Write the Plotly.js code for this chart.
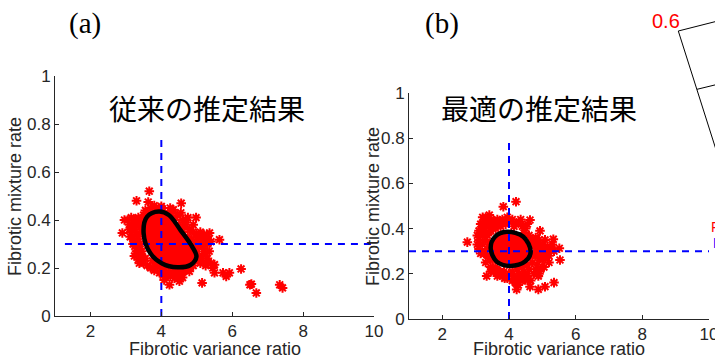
<!DOCTYPE html>
<html>
<head>
<meta charset="utf-8">
<script src="https://cdn.plot.ly/plotly-3.0.1.min.js"></script>
<style>html,body{margin:0;padding:0;background:#fff;overflow:hidden}#chart{width:715px;height:359px}</style>
</head>
<body>
<div id="chart"></div>
<script>
// ---- data ----
const xTicks = [2, 4, 6, 8, 10];
const yTicks = [0, 0.2, 0.4, 0.6, 0.8, 1];
const panelTitles = ["従来の推定結果", "最適の推定結果"];
const panelLabels = ["(a)", "(b)"];
const xLabel = "Fibrotic variance ratio";
const yLabel = "Fibrotic mixture rate";
const trueVar = 4;
const trueMix = 0.3;
const aRefLineX = [1.28, 10];
const aRefLineTop = 0.75;
const bRefLineX = [1, 10];
const bRefLineTop = 0.8;

// panel (a) samples
const aX = [3.66,3.30,3.63,4.56,4.0,4.34,3.25,2.96,2.9,4.98,4.7,5.36,5.64,3.24,3.38,5.26,5.5,5.5,5.74,5.92,5.83,6.25,5.15,4.23,4.51,4.08,4.37,6.54,6.5,6.68,7.34,7.42,5.08,5.17,5.26,4.7,4.79,4.56,4.27,4.13,
  3.05,3.15,3.25,3.35,3.45,3.1,3.2,3.3,3.4,3.15,3.3,3.42,3.2,3.35,3.25,3.4,3.3,3.45,3.35,3.5,3.45,3.12,3.5,3.55,3.6,
  3.7,3.85,4.0,4.1,4.2,4.3,4.45,4.6,4.75,4.35,4.5,4.65,4.8,4.9,
  4.9,5.0,5.1,5.2,5.3,5.0,5.15,5.3,5.4,5.05,5.2,5.35,5.0,5.15,5.3,4.95,5.1,5.25,4.9,5.4,5.45,
  3.9,4.0,4.1,4.2,4.35,4.5,4.65,4.8,4.05,4.25,4.45,4.6,3.85,4.7,
  3.2,3.4,3.55,3.1,3.25,3.35,3.2,3.4,3.3,3.55,3.6,3.7,3.75,3.8,3.95,4.15,4.4,4.6,4.75,4.85,4.95,5.05,4.85,4.95,5.1,5.25,5.2,4.7,4.55,4.25,3.8,3.95,4.4,4.6,4.75];
const aY = [0.52,0.48,0.475,0.47,0.457,0.443,0.40,0.40,0.346,0.41,0.40,0.346,0.318,0.25,0.22,0.22,0.214,0.18,0.18,0.18,0.165,0.196,0.138,0.13,0.145,0.15,0.158,0.133,0.13,0.096,0.13,0.117,0.234,0.29,0.33,0.207,0.186,0.18,0.186,0.207,
  0.40,0.41,0.40,0.41,0.40,0.38,0.37,0.38,0.37,0.35,0.34,0.35,0.32,0.31,0.29,0.28,0.26,0.25,0.235,0.22,0.27,0.33,0.42,0.44,0.43,
  0.45,0.44,0.45,0.43,0.42,0.44,0.42,0.40,0.41,0.40,0.38,0.37,0.36,0.38,
  0.35,0.34,0.35,0.34,0.33,0.32,0.31,0.30,0.31,0.29,0.28,0.27,0.26,0.25,0.24,0.23,0.22,0.21,0.21,0.22,0.20,
  0.21,0.20,0.19,0.18,0.19,0.20,0.19,0.20,0.17,0.165,0.17,0.16,0.22,0.21,
  0.39,0.39,0.41,0.36,0.36,0.33,0.30,0.30,0.27,0.24,0.21,0.20,0.23,0.19,0.18,0.17,0.18,0.19,0.23,0.26,0.30,0.33,0.32,0.27,0.24,0.26,0.32,0.38,0.43,0.45,0.46,0.44,0.41,0.35,0.33];
const aContourX = [3.93,4.21,4.54,4.87,4.99,4.82,4.45,4.02,3.69,3.50,3.60,3.93];
const aContourY = [0.435,0.421,0.358,0.289,0.247,0.2125,0.203,0.219,0.261,0.345,0.414,0.435];

// panel (b) samples
const bX = [3.83,4.21,3.41,3.21,2.75,3.33,4.63,4.93,5.51,5.53,5.33,5.08,5.35,5.08,4.88,4.63,4.28,4.23,4.48,4.88,3.73,3.87,
  3.05,3.1,3.15,3.2,3.25,3.3,3.35,3.4,3.45,3.5,3.55,3.6,3.7,3.8,3.9,4.0,4.1,4.2,4.3,4.4,4.5,3.2,3.3,3.35,3.25,3.4,3.3,3.45,3.55,3.1,3.2,
  4.6,4.7,4.8,4.75,4.85,4.95,5.05,5.15,5.25,5.35,4.8,4.9,5.0,5.1,5.2,4.7,4.85,4.95,4.6,4.75,4.45,4.3,4.15,4.0,3.85,4.5,4.65,4.35,4.2,5.05,
  3.15,3.3,3.45,3.65,3.75,3.95,4.15,4.35,4.45,4.55,3.05,3.15,3.35,3.4,3.3,3.5,3.45,3.6,3.7,3.65,3.8,3.95,4.1,4.25,4.4,4.55,4.65,4.75,4.7,4.85,4.9,5.0,5.1,5.2,5.3,4.95,4.8,4.9,4.55,4.4,4.1,4.3,3.25,3.1,3.4];
const bY = [0.497,0.519,0.46,0.45,0.34,0.19,0.438,0.39,0.313,0.261,0.353,0.35,0.161,0.143,0.131,0.143,0.15,0.131,0.173,0.19,0.209,0.18,
  0.37,0.35,0.38,0.40,0.43,0.41,0.44,0.42,0.39,0.41,0.43,0.40,0.42,0.44,0.42,0.43,0.44,0.42,0.43,0.41,0.40,0.33,0.35,0.31,0.29,0.27,0.25,0.23,0.21,0.31,0.37,
  0.37,0.35,0.36,0.32,0.33,0.31,0.30,0.32,0.31,0.30,0.28,0.27,0.26,0.27,0.28,0.25,0.24,0.22,0.22,0.20,0.21,0.20,0.19,0.20,0.21,0.18,0.17,0.17,0.16,0.23,
  0.42,0.45,0.44,0.44,0.41,0.45,0.41,0.44,0.38,0.42,0.33,0.29,0.37,0.33,0.29,0.26,0.21,0.23,0.21,0.19,0.19,0.18,0.21,0.22,0.23,0.24,0.28,0.29,0.34,0.30,0.35,0.33,0.29,0.25,0.33,0.28,0.22,0.20,0.19,0.19,0.17,0.18,0.39,0.39,0.385];
const bContourX = [3.93,4.43,4.65,4.48,4.03,3.63,3.45,3.58,3.93];
const bContourY = [0.386,0.364,0.298,0.254,0.235,0.254,0.313,0.364,0.386];

// ---- styling ----
const AX = '#262626';
const tickFont = {family: 'Liberation Sans, Arial, sans-serif', size: 17, color: AX};
const markerStyle = {symbol: 'asterisk-open', size: 8, color: '#ff0000', line: {color: '#ff0000', width: 2}};
const dashLine = {color: '#0000ff', width: 2, dash: '7px,6px'};

function panelTraces(px, py, cx, cy, refX, refTop, xa, ya) {
  return [
    {x: cx, y: cy, xaxis: xa, yaxis: ya, type: 'scatter', mode: 'lines', fill: 'toself', fillcolor: '#ff0000',
     line: {color: '#ff0000', width: 0, shape: 'spline'}, hoverinfo: 'skip', showlegend: false},
    {x: px, y: py, xaxis: xa, yaxis: ya, type: 'scatter', mode: 'markers', marker: markerStyle, showlegend: false},
    {x: refX, y: [trueMix, trueMix], xaxis: xa, yaxis: ya, type: 'scatter', mode: 'lines', line: dashLine, showlegend: false},
    {x: [trueVar, trueVar], y: [0, refTop], xaxis: xa, yaxis: ya, type: 'scatter', mode: 'lines', line: dashLine, showlegend: false},
    {x: cx, y: cy, xaxis: xa, yaxis: ya, type: 'scatter', mode: 'lines', line: {color: '#000', width: 4.5, shape: 'spline'}, showlegend: false}
  ];
}

const data = [].concat(
  panelTraces(aX, aY, aContourX, aContourY, aRefLineX, aRefLineTop, 'x', 'y'),
  panelTraces(bX, bY, bContourX, bContourY, bRefLineX, bRefLineTop, 'x2', 'y2')
);

function xAxis(domain, anchor) {
  return {domain: domain, anchor: anchor, range: [1, 10], tickvals: xTicks, ticktext: xTicks.map(String),
    showline: true, linecolor: AX, linewidth: 1, ticks: 'inside', ticklen: 4, tickcolor: AX,
    showgrid: false, zeroline: false, tickfont: tickFont, fixedrange: true, ticklabeloverflow: 'allow'};
}
function yAxis(domain, anchor) {
  return {domain: domain, anchor: anchor, range: [0, 1], tickvals: yTicks, ticktext: yTicks.map(String),
    showline: true, linecolor: AX, linewidth: 1, ticks: 'inside', ticklen: 4, tickcolor: AX,
    showgrid: false, zeroline: false, tickfont: tickFont, fixedrange: true, ticklabeloverflow: 'allow'};
}

const W = 715, H = 359;
const px = v => v / W, py = v => 1 - v / H;
const cjk = {family: 'Noto Sans CJK JP, sans-serif', size: 28, color: '#000'};
const serif = {family: 'Liberation Serif, Times New Roman, serif', size: 29, color: '#000'};
const labFont = {family: 'Liberation Sans, Arial, sans-serif', size: 18, color: AX};

function ann(x, y, text, font, extra) {
  return Object.assign({xref: 'paper', yref: 'paper', x: px(x), y: py(y), text: text, font: font,
    showarrow: false, xanchor: 'center', yanchor: 'middle'}, extra || {});
}

const layout = {
  width: W, height: H,
  margin: {l: 0, r: 0, t: 0, b: 0},
  paper_bgcolor: '#fff', plot_bgcolor: 'rgba(0,0,0,0)',
  showlegend: false,
  xaxis: xAxis([px(55), px(374)], 'y'),
  yaxis: yAxis([py(316), py(76)], 'x'),
  xaxis2: xAxis([px(409), px(709)], 'y2'),
  yaxis2: yAxis([py(319), py(93)], 'x2'),
  annotations: [
    ann(85, 24, panelLabels[0], serif),
    ann(442, 24, panelLabels[1], serif),
    ann(207, 108, panelTitles[0], cjk),
    ann(539, 108, panelTitles[1], cjk),
    ann(215, 349, xLabel, labFont),
    ann(559, 349, xLabel, labFont),
    ann(15, 197, yLabel, labFont, {textangle: -90}),
    ann(373, 207, yLabel, labFont, {textangle: -90}),
    ann(666, 21, '0.6', {family: 'Liberation Sans, Arial, sans-serif', size: 20, color: '#ff0000'}),
    ann(709, 227, 'F', {family: 'Liberation Sans, Arial, sans-serif', size: 14, color: '#ff0000'}, {xanchor: 'left'}),
    ann(711, 243, 'F', {family: 'Liberation Sans, Arial, sans-serif', size: 14, color: '#0000ff'}, {xanchor: 'left'})
  ],
  shapes: [
    {type: 'line', xref: 'paper', yref: 'paper', x0: px(678.3), y0: py(31), x1: px(730), y1: py(17.9), line: {color: '#000', width: 1}},
    {type: 'line', xref: 'paper', yref: 'paper', x0: px(678.3), y0: py(31), x1: px(725), y1: py(178), line: {color: '#000', width: 1}},
    {type: 'line', xref: 'paper', yref: 'paper', x0: px(697), y0: py(89.3), x1: px(730), y1: py(81.3), line: {color: '#000', width: 1}}
  ]
};

Plotly.newPlot('chart', data, layout, {staticPlot: true, displayModeBar: false});
</script>
</body>
</html>
